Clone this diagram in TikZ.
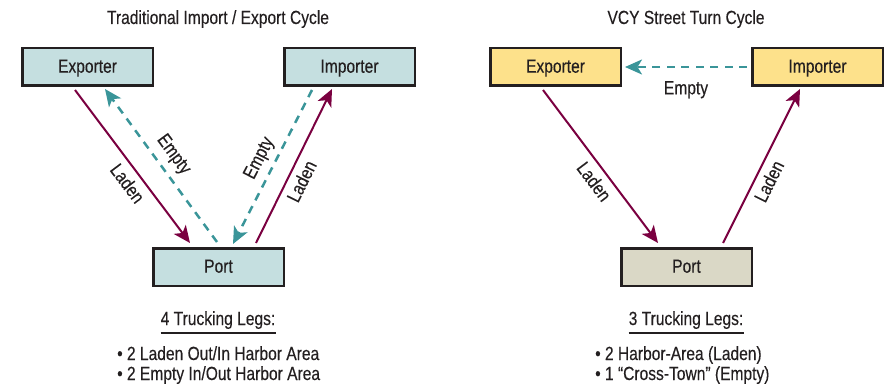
\documentclass[tikz,border=0pt]{standalone}
\usepackage{fontspec}
\setmainfont{Liberation Sans}[FakeStretch=0.82, FakeBold=0.3]
\usetikzlibrary{arrows.meta}

\definecolor{ink}{HTML}{231F20}
\definecolor{ladenc}{HTML}{7A0040}
\definecolor{emptyc}{HTML}{3A9599}
\definecolor{tealfill}{HTML}{C5DFE0}
\definecolor{yellowfill}{HTML}{FDE18B}
\definecolor{tanfill}{HTML}{DAD8C6}

\begin{document}
\begin{tikzpicture}[x=1pt, y=-1pt,
  font=\fontsize{19}{21}\selectfont, text=ink,
  box/.style={draw=ink, line width=2.5pt, minimum width=130.5pt,
    minimum height=37.5pt, inner sep=0pt, text height=13.6pt, text depth=2.2pt},
  tip/.style={-{Stealth[length=17pt, width=15pt, inset=4.5pt]}},
  ladenarrow/.style={draw=ladenc, line width=2pt, tip},
  emptyarrow/.style={draw=emptyc, line width=2.5pt, dash pattern=on 8pt off 6.5pt, tip},
  lbl/.style={sloped, inner sep=2pt, text=ink},
  plain/.style={inner sep=0pt},
  uline/.style={draw=ink, line width=2pt}
]
\useasboundingbox (0,0) rectangle (890,385);

% ---------- Traditional import / export cycle ----------
\node[plain, anchor=base] (titleL) at (218,24) {Traditional Import / Export Cycle};
\node[box, fill=tealfill] (expL) at (87.5,67) {Exporter};
\node[box, fill=tealfill] (impL) at (349.5,67) {Importer};
\node[box, fill=tealfill] (portL) at (218.5,267) {Port};

\draw[ladenarrow] ([xshift=-12.5pt, yshift=-3pt]expL.south)
  -- node[lbl, below=4pt, pos=0.555] {Laden}
  ([xshift=-28.5pt, yshift=4pt]portL.north);
\draw[emptyarrow] ([xshift=-1.5pt, yshift=5pt]portL.north)
  -- node[lbl, above=4.5pt, pos=0.507] {Empty}
  ([xshift=17.5pt, yshift=-2pt]expL.south);
\draw[emptyarrow] ([xshift=-37.5pt, yshift=-3pt]impL.south)
  -- node[lbl, above=3.5pt, pos=0.49] {Empty}
  ([xshift=14.5pt, yshift=3pt]portL.north);
\draw[ladenarrow] ([xshift=37.5pt, yshift=4pt]portL.north)
  -- node[lbl, below=3.5pt, pos=0.44] {Laden}
  ([xshift=-17.5pt, yshift=-2pt]impL.south);

\node[plain, anchor=base] (legsL) at (218,325) {4 Trucking Legs:};
\draw[uline] ([yshift=-8pt]legsL.base west) -- ([yshift=-8pt]legsL.base east);
\node[plain, anchor=base west] (itemL1) at (117,360) {• 2 Laden Out/In Harbor Area};
\node[plain, anchor=base west] (itemL2) at (117,380) {• 2 Empty In/Out Harbor Area};

% ---------- VCY street turn cycle ----------
\node[plain, anchor=base] (titleR) at (686,24) {VCY Street Turn Cycle};
\node[box, fill=yellowfill] (expR) at (555.5,67) {Exporter};
\node[box, fill=yellowfill] (impR) at (817.5,67) {Importer};
\node[box, fill=tanfill] (portR) at (686.5,267) {Port};

\draw[emptyarrow] ([xshift=-4pt]impR.west)
  -- node[below=11pt, inner sep=2pt, midway] {Empty}
  ([xshift=3pt]expR.east);
\draw[ladenarrow] ([xshift=-12.5pt, yshift=-3pt]expR.south)
  -- node[lbl, below=4pt, pos=0.543] {Laden}
  ([xshift=-28.5pt, yshift=4pt]portR.north);
\draw[ladenarrow] ([xshift=36.5pt, yshift=4pt]portR.north)
  -- node[lbl, below=3.5pt, pos=0.44] {Laden}
  ([xshift=-17.5pt, yshift=-2pt]impR.south);

\node[plain, anchor=base] (legsR) at (686,325) {3 Trucking Legs:};
\draw[uline] ([yshift=-8pt]legsR.base west) -- ([yshift=-8pt]legsR.base east);
\node[plain, anchor=base west] (itemR1) at (595,360) {• 2 Harbor-Area (Laden)};
\node[plain, anchor=base west] (itemR2) at (595,380) {• 1 “Cross-Town” (Empty)};
\end{tikzpicture}
\end{document}
